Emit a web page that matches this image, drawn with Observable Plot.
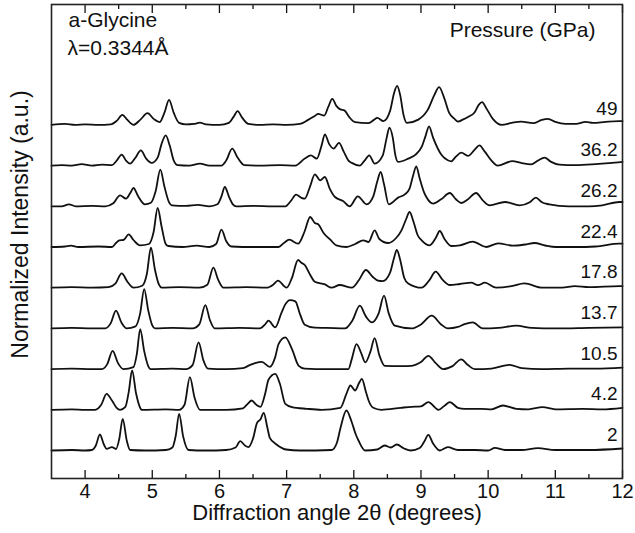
<!DOCTYPE html>
<html><head><meta charset="utf-8">
<script src="https://cdn.jsdelivr.net/npm/d3@7"></script>
<script src="https://cdn.jsdelivr.net/npm/@observablehq/plot@0.6"></script>
<style>
body{margin:0;background:#fff;}
#chart svg{font-family:"Liberation Sans",Arial,sans-serif;}
</style>
</head><body><div id="chart"></div>
<script>
// Pressures (GPa), bottom to top
const pressures = ["2","4.2","10.5","13.7","17.8","22.4","26.2","36.2","49"];

// Each trace: [2θ (deg), intensity above its own baseline (a.u.)]
const p2 = [[3.5,0],[3.8,0.5],[4.0,0],[4.1,0.5],[4.16,5],[4.22,16],[4.28,6],[4.32,1.7],[4.4,3.3],[4.46,1.5],[4.51,12],[4.56,31.7],[4.62,10],[4.67,0.5],[4.9,0],[5.2,0.5],[5.3,3],[5.35,15],[5.4,36.7],[5.46,14],[5.54,0.5],[5.8,0],[6.1,0.5],[6.24,3],[6.31,9.3],[6.38,5],[6.43,3.3],[6.5,12],[6.56,27.7],[6.61,31],[6.66,37.7],[6.71,24],[6.75,12.7],[6.85,6],[6.99,1],[7.2,0],[7.67,0.5],[7.75,8],[7.8,22],[7.89,40],[7.97,28.3],[8.03,16],[8.07,10],[8.17,0],[8.35,1],[8.46,5],[8.55,3],[8.64,6],[8.75,2],[8.85,0],[8.98,2.5],[9.05,9],[9.11,15.7],[9.18,7],[9.28,0],[9.4,3.3],[9.55,0.5],[9.8,0.5],[10.0,0],[10.1,2.7],[10.25,0.5],[10.5,0.5],[10.74,2.3],[11.0,0.5],[11.5,0.5],[12,2]];
const p4_2 = [[3.5,0],[3.8,0.5],[4.0,0],[4.15,0],[4.24,5],[4.32,16],[4.4,9.3],[4.47,2],[4.52,0],[4.6,3],[4.65,18],[4.7,39.3],[4.76,16],[4.82,2],[4.84,0],[5.2,0.5],[5.4,0],[5.48,5],[5.56,32.7],[5.63,12],[5.71,0],[6.1,0],[6.35,1.5],[6.42,6],[6.48,9.3],[6.55,5],[6.61,3],[6.68,16],[6.73,30],[6.83,36],[6.9,26],[6.98,6],[7.08,2.7],[7.3,1],[7.52,0],[7.8,2],[7.89,16],[7.95,24.3],[8.02,19.3],[8.08,27],[8.12,31],[8.18,18],[8.22,9.3],[8.29,2],[8.41,0],[8.7,2],[8.86,3],[9.0,3.5],[9.11,7.7],[9.26,0],[9.35,4],[9.43,7.7],[9.55,2],[9.65,1],[9.9,1],[10.05,0.5],[10.22,4.3],[10.42,1],[10.6,0.5],[10.81,2.7],[11.0,0.5],[11.4,1],[11.7,0.5],[12,2]];
const p10_5 = [[3.5,0],[3.8,0.5],[4.1,0],[4.25,0],[4.33,5],[4.41,18.3],[4.49,6],[4.57,0],[4.72,2],[4.77,15],[4.82,40],[4.88,18],[4.94,3],[4.97,0],[5.3,0.5],[5.5,0],[5.6,4],[5.69,26.7],[5.76,9],[5.83,0.5],[6.1,0],[6.35,1],[6.45,4],[6.53,6],[6.63,7.3],[6.75,2.3],[6.83,12],[6.88,25],[6.98,31.7],[7.08,20],[7.18,3.3],[7.27,0.5],[7.6,0],[7.92,0],[7.97,10],[8.04,25],[8.11,16],[8.17,6.7],[8.25,18],[8.31,31],[8.38,14],[8.46,3.3],[8.7,3],[8.86,3.3],[9.0,7],[9.11,13.3],[9.22,6],[9.33,0],[9.47,3],[9.6,9.7],[9.7,4],[9.8,0],[10.05,0.5],[10.32,4.3],[10.5,1],[10.8,0],[11.2,0.5],[11.6,0.5],[12,1.5]];
const p13_7 = [[3.5,0],[3.8,0.5],[4.1,0],[4.3,0],[4.38,5],[4.46,17.7],[4.54,6],[4.62,0],[4.75,2],[4.82,15],[4.88,39.3],[4.94,18],[5.0,3],[5.04,0],[5.3,0.5],[5.6,0],[5.7,4],[5.79,23.3],[5.86,8],[5.93,0],[6.3,0.5],[6.6,0],[6.68,4],[6.73,7.7],[6.83,1],[6.92,15],[6.98,24],[7.05,28.3],[7.13,27],[7.2,14],[7.27,3.7],[7.42,0.7],[7.6,0.5],[7.87,0],[7.98,8],[8.09,22.7],[8.18,12],[8.27,6],[8.37,15],[8.45,32.7],[8.52,15],[8.61,2.7],[8.86,0],[9.0,4],[9.16,12.7],[9.3,4],[9.4,0],[9.55,1.5],[9.65,4.3],[9.77,6],[9.92,0],[10.15,0.5],[10.42,2.7],[10.65,0.5],[11.0,0],[11.5,0.5],[12,1]];
const p17_8 = [[3.5,0],[3.8,0.5],[4.1,0],[4.35,0.5],[4.45,4],[4.545,14.3],[4.63,6],[4.72,0],[4.85,2],[4.92,14],[4.98,40],[5.04,18],[5.1,3],[5.14,0],[5.4,0.5],[5.7,0],[5.82,3],[5.91,20],[5.98,8],[6.06,0],[6.4,0.5],[6.7,0],[6.8,3],[6.87,7],[7.0,0],[7.08,10],[7.17,27.7],[7.22,25],[7.27,22.7],[7.35,13],[7.42,6],[7.57,3.3],[7.67,0],[7.79,2.7],[7.97,0],[8.08,8],[8.18,17.7],[8.28,11],[8.36,7],[8.43,6.5],[8.54,15],[8.6,30],[8.64,37.7],[8.69,28],[8.75,10],[8.81,4.3],[9.01,0],[9.12,7],[9.22,16],[9.32,8],[9.43,2.7],[9.58,3.7],[9.75,5],[9.85,2.5],[9.95,5],[10.12,0],[10.35,1.5],[10.54,4.3],[10.81,0],[11.1,0],[11.29,1.5],[11.5,0.5],[11.95,1.5],[12,1.5]];
const p22_4 = [[3.5,0],[3.7,0.5],[3.79,1.3],[3.9,0],[4.2,0.5],[4.4,0],[4.46,4],[4.51,6.7],[4.57,7],[4.65,12.7],[4.72,7],[4.82,1.7],[4.95,3],[5.02,15],[5.08,39],[5.14,20],[5.2,3],[5.24,1],[5.45,0],[5.66,1.3],[5.85,0],[5.95,3],[6.03,17.3],[6.1,6],[6.18,0.5],[6.5,0],[6.88,0],[6.96,4],[7.04,7.3],[7.17,3.3],[7.27,16],[7.35,30],[7.42,24],[7.47,22.7],[7.55,14],[7.65,7.3],[7.74,1.7],[7.89,0],[8.02,3],[8.14,6.7],[8.22,5],[8.31,16.7],[8.38,8],[8.51,4],[8.63,9],[8.71,16.7],[8.78,28],[8.83,35],[8.89,25],[8.95,12],[9.01,6.7],[9.13,1.7],[9.22,9],[9.28,16],[9.35,8],[9.45,1],[9.58,1.7],[9.77,5.3],[9.97,0],[10.15,3.7],[10.37,1.3],[10.55,2.5],[10.69,4],[10.85,1.5],[11.01,0],[11.3,0],[11.6,0.5],[11.95,3.3],[12,3.3]];
const p26_2 = [[3.5,0],[3.65,0],[3.76,2],[3.86,0],[4.1,0.5],[4.3,0],[4.42,3],[4.52,11],[4.61,7.7],[4.67,13],[4.72,18.3],[4.79,10],[4.89,2],[4.98,3.5],[5.05,15],[5.12,36.7],[5.18,20],[5.25,4],[5.29,1],[5.5,0.5],[5.68,1.5],[5.85,0],[5.97,2],[6.03,10],[6.08,19.3],[6.14,10],[6.2,2],[6.25,0],[6.5,0.5],[6.8,0],[6.98,0],[7.07,6],[7.14,11.7],[7.22,8.5],[7.27,7.7],[7.35,20],[7.42,32],[7.5,26],[7.57,29.3],[7.64,18],[7.72,9.3],[7.84,5.3],[7.94,0],[8.06,10],[8.19,2],[8.29,10],[8.35,25],[8.4,34.3],[8.45,22],[8.52,2],[8.66,8.7],[8.76,12],[8.83,17.7],[8.88,30],[8.93,40],[8.98,28],[9.04,15],[9.08,9.3],[9.18,2.7],[9.3,7],[9.43,13.3],[9.52,7],[9.6,3.3],[9.7,7],[9.82,13.3],[9.92,6],[10.02,1],[10.25,4.3],[10.47,1],[10.62,4],[10.71,8.7],[10.8,4],[10.91,2],[11.2,0],[11.5,0],[11.7,1],[11.95,4.3],[12,4.3]];
const p36_2 = [[3.5,0],[3.65,0.5],[3.8,0],[3.95,1.5],[4.1,0],[4.25,1],[4.4,0.5],[4.47,5],[4.545,11],[4.61,5],[4.67,2],[4.75,8],[4.83,15.3],[4.91,7],[4.99,2.7],[5.08,8],[5.14,22],[5.2,30.3],[5.26,20],[5.32,5],[5.38,0.5],[5.55,0],[5.71,2],[5.85,0],[6.03,0],[6.1,5],[6.19,17],[6.27,8],[6.37,0.5],[6.6,0],[6.9,0.5],[7.13,0],[7.27,7],[7.36,10.3],[7.45,7],[7.52,20],[7.57,31.3],[7.63,22],[7.7,17],[7.78,22.7],[7.85,14],[7.92,5],[7.97,2.7],[8.09,0],[8.16,5],[8.23,10.3],[8.31,2],[8.43,10],[8.49,28],[8.53,38],[8.58,28],[8.62,10],[8.66,3.7],[8.81,7],[8.92,11],[9.01,18.7],[9.07,30],[9.12,39.3],[9.18,28],[9.31,10.3],[9.4,5.3],[9.45,4.3],[9.52,9],[9.6,13],[9.7,9.7],[9.8,16],[9.87,20.3],[9.95,14],[10.05,5],[10.14,0],[10.36,4.5],[10.5,2.5],[10.64,1.3],[10.74,5],[10.84,8],[10.93,4],[11.06,1],[11.3,0.5],[11.6,1.5],[11.8,2.5],[12,3.7]];
const p49 = [[3.5,0],[3.7,1],[3.85,0],[4.0,0.5],[4.2,0],[4.38,0.5],[4.47,4],[4.555,10],[4.63,5],[4.72,0],[4.82,5],[4.93,11.7],[5.02,6],[5.11,2.7],[5.18,12],[5.25,25],[5.32,12],[5.4,2],[5.5,0.5],[5.62,1],[5.71,2.3],[5.8,0.5],[6.0,0],[6.14,2],[6.21,8],[6.27,13.7],[6.34,7],[6.43,1],[6.6,0],[6.8,0.5],[7.0,0],[7.2,1],[7.32,5],[7.42,9],[7.47,11],[7.56,9.3],[7.62,18],[7.68,26],[7.74,19],[7.8,15.5],[7.86,14.5],[7.93,8],[8.02,2.7],[8.21,1.7],[8.3,5],[8.35,7],[8.44,3.7],[8.54,14],[8.6,32],[8.645,39],[8.69,30],[8.74,10],[8.79,2],[8.96,5.3],[9.1,15],[9.2,30],[9.27,37.7],[9.34,28],[9.42,12],[9.5,6],[9.55,3.3],[9.63,5.5],[9.7,8],[9.8,12.7],[9.86,20],[9.91,22.7],[9.97,17],[10.07,6],[10.2,0],[10.35,2],[10.49,3.3],[10.67,1.7],[10.8,5],[10.89,6],[11.0,3],[11.15,1],[11.31,1],[11.45,3],[11.56,2],[11.75,3],[11.95,3.7],[12,3.7]];

const traces = [p2, p4_2, p10_5, p13_7, p17_8, p22_4, p26_2, p36_2, p49];

const majorTicks = [4, 5, 6, 7, 8, 9, 10, 11, 12];
const minorTicks = [4.5, 5.5, 6.5, 7.5, 8.5, 9.5, 10.5, 11.5];

const xLabel = "Diffraction angle 2θ (degrees)";
const yLabel = "Normalized Intensity (a.u.)";
const title1 = "a-Glycine";
const title2 = "λ=0.3344Å";
const legendTitle = "Pressure (GPa)";

// stacking of traces
const base = 28, step = 40.7;
const rows = traces.flatMap((t, i) => t.map(([x, h]) => ({pressure: pressures[i], x, y: base + i * step + h})));
const labelRows = pressures.map((p, i) => ({p, y: base + i * step + 15.5}));

const ink = "#111";
const chart = Plot.plot({
  width: 635,
  height: 533,
  marginLeft: 51,
  marginRight: 13,
  marginTop: 4,
  marginBottom: 55,
  style: {fontFamily: "'Liberation Sans', Arial, sans-serif", color: ink, background: "#fff"},
  x: {domain: [3.5, 12]},
  y: {domain: [0, 474], axis: null},
  marks: [
    Plot.line(rows, {x: "x", y: "y", z: "pressure", curve: "monotone-x", stroke: ink, strokeWidth: 1.8}),
    Plot.text(labelRows, {frameAnchor: "right", y: "y", text: "p", textAnchor: "end", lineAnchor: "middle", dx: -5, fontSize: 19, fill: ink}),
    Plot.axisX({anchor: "bottom", ticks: majorTicks, tickSize: -8, tickPadding: 13, fontSize: 20, label: null, tickFormat: d => String(d), strokeWidth: 1.3}),
    Plot.axisX({anchor: "bottom", ticks: minorTicks, tickSize: -4, tickFormat: () => "", label: null, strokeWidth: 1.3}),
    Plot.axisX({anchor: "top", ticks: majorTicks, tickSize: -8, tickFormat: () => "", label: null, strokeWidth: 1.3}),
    Plot.axisX({anchor: "top", ticks: minorTicks, tickSize: -4, tickFormat: () => "", label: null, strokeWidth: 1.3}),
    Plot.frame({stroke: "#222", strokeWidth: 1.6}),
    Plot.text([title1], {frameAnchor: "top-left", dx: 17, dy: 16, text: d => d, textAnchor: "start", lineAnchor: "middle", fontSize: 21, fill: ink}),
    Plot.text([title2], {frameAnchor: "top-left", dx: 16, dy: 44, text: d => d, textAnchor: "start", lineAnchor: "middle", fontSize: 21, fill: ink}),
    Plot.text([legendTitle], {frameAnchor: "top-right", dx: -27, dy: 26, text: d => d, textAnchor: "end", lineAnchor: "middle", fontSize: 21, fill: ink}),
    Plot.text([xLabel], {frameAnchor: "bottom", dy: 34, text: d => d, lineAnchor: "middle", textAnchor: "middle", fontSize: 22, fill: ink}),
    Plot.text([yLabel], {frameAnchor: "left", dx: -31, dy: -17, rotate: -90, text: d => d, textAnchor: "middle", lineAnchor: "middle", fontSize: 23, fill: ink})
  ]
});
document.getElementById("chart").append(chart);
</script>
</body></html>
